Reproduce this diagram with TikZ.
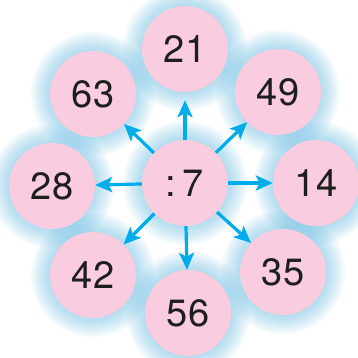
\documentclass[tikz,border=0pt]{standalone}
\usepackage{fontspec}
\setmainfont{TeX Gyre Heros}
\usetikzlibrary{arrows.meta,backgrounds}
\definecolor{ballcol}{RGB}{249,204,223}
\definecolor{arrcol}{RGB}{0,172,234}
\definecolor{glowcol}{RGB}{80,175,220}
\definecolor{numcol}{RGB}{30,30,30}
\tikzset{
  % number disc
  ball/.style={circle, fill=ballcol, minimum size=86pt, inner sep=0pt,
               text=numcol, font=\fontsize{38}{42}\selectfont},
  % division arrow
  divarrow/.style={-{Stealth[length=17pt,width=15pt,inset=4pt]}, line width=3.2pt, arrcol},
}
\begin{document}
\begin{tikzpicture}[x=1pt,y=-1pt]
  \useasboundingbox (0,0) rectangle (357,358);

  % centre
  \node[ball] (c) at (185,183) {:\,7};

  % outer discs
  \node[ball] (n21) at (185,49) {21};
  \node[ball] (n49) at (278,92) {49};
  \node[ball] (n14) at (316,183) {14};
  \node[ball] (n35) at (283,272) {35};
  \node[ball] (n56) at (188,313) {56};
  \node[ball] (n42) at (93,275) {42};
  \node[ball] (n28) at (52,186) {28};
  \node[ball] (n63) at (93,94) {63};

  % blue glow
  \begin{scope}[on background layer]
    \foreach \n in {c,n21,n49,n14,n35,n56,n42,n28,n63}
      \foreach \r in {44,46,...,62}
        \fill[glowcol, opacity=0.055] (\n) circle (\r pt);
  \end{scope}

  % arrows
  \draw[divarrow, shorten >=8pt] (c) -- (n21);
  \draw[divarrow] (c) -- (n49);
  \draw[divarrow] (c) -- (n14);
  \draw[divarrow] (c) -- (n35);
  \draw[divarrow] (c) -- (n56);
  \draw[divarrow] (c) -- (n42);
  \draw[divarrow] (c) -- (n28);
  \draw[divarrow] (c) -- (n63);
\end{tikzpicture}
\end{document}
